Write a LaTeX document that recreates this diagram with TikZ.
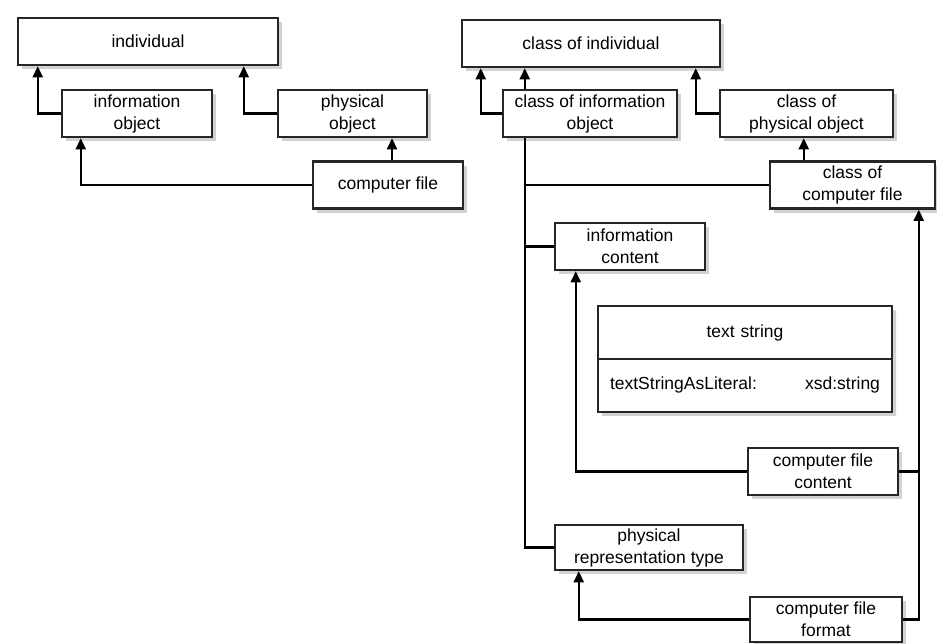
\documentclass[tikz,border=0pt]{standalone}
\usepackage{fontspec}
\setmainfont{Liberation Sans}
\usepackage{tikz}
\usetikzlibrary{arrows.meta,shadows,shapes.multipart}

\begin{document}
\begin{tikzpicture}[x=1pt, y=-1pt,
  box/.style={draw=black!85, line width=2.5pt, fill=white, align=center,
              minimum width=#1, minimum height=47pt, inner sep=2pt,
              font=\fontsize{17.5}{22}\selectfont,
              drop shadow={shadow xshift=4pt, shadow yshift=-4pt, fill=black!35}},
  box/.default=150pt,
  arr/.style={-{Triangle[length=11pt, width=10pt]}, line width=2.2pt},
  lnk/.style={line width=2.2pt},
]
\useasboundingbox (0,0) rectangle (937,643);
% Nodes, left
\node[box=260pt] (indiv)    at (148,41.5)   {individual};
\node[box]       (infoobj)  at (137,113.5)  {information\\object};
\node[box=149pt] (physobj)  at (352.5,113.5) {physical\\object};
\node[box]       (compfile) at (388,185)    {computer file};
% Nodes, right
\node[box=258pt] (cind)     at (591,43.5)   {class of individual};
\node[box=174pt] (cinfo)    at (590,113.5)  {class of information\\object};
\node[box=173pt] (cphys)    at (806.5,113.5) {class of\\physical object};
\node[box=165pt] (ccf)      at (852.5,185)  {class of\\computer file};
\node[box]       (infocont) at (630,246.5)  {information\\content};
\node[box, rectangle split, rectangle split parts=2, text width=270pt,
      inner xsep=12pt, inner ysep=17pt, rectangle split part align={center,left}]
                 (txtstr)   at (745,359)    {text string
                 \nodepart{two} textStringAsLiteral:\hfill xsd:string};
\node[box]       (cfc)      at (823,471.5)  {computer file\\content};
\node[box=188pt, minimum height=45pt] (prt) at (649,547.5) {physical\\representation type};
\node[box=152pt, minimum height=45pt] (cff) at (826,619.5) {computer file\\format};
% Connectors, left
\draw[arr] (infoobj.west) -| ([xshift=21pt]indiv.south west);
\draw[arr] (physobj.west) -| ([xshift=227pt]indiv.south west);
\draw[arr] (compfile.west) -| ([xshift=20pt]infoobj.south west);
\draw[arr] ([xshift=4pt]compfile.north) -- ([xshift=4pt]compfile.north |- physobj.south);
% Connectors, right
\draw[arr] (cinfo.west) -| ([xshift=20pt]cind.south west);
\draw[arr] ([xshift=23pt]cinfo.north west) -- ([xshift=23pt]cinfo.north west |- cind.south);
\draw[arr] (cphys.west) -| ([xshift=235pt]cind.south west);
\draw[arr] ([xshift=35pt]ccf.north west) -- ([xshift=35pt]ccf.north west |- cphys.south);
\coordinate (bus) at ([xshift=23pt]cinfo.south west);
\draw[lnk] (bus) |- (prt.west);
\draw[lnk] (bus |- ccf.west) -- (ccf.west);
\draw[lnk] (bus |- infocont.west) -- (infocont.west);
\draw[arr] (cfc.west) -| ([xshift=22pt]infocont.south west);
\draw[arr] (cff.west) -| ([xshift=25pt]prt.south west);
\coordinate (rbus) at ([xshift=150pt]ccf.south west);
\draw[arr] (cff.east) -| (rbus);
\draw[lnk] (cfc.east) -- (cfc.east -| rbus);
\end{tikzpicture}
\end{document}
